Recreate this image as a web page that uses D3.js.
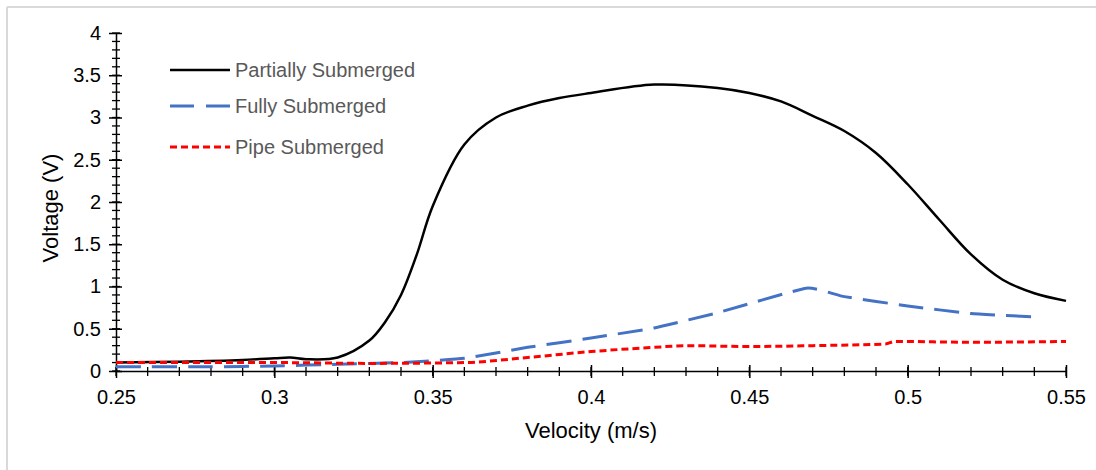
<!DOCTYPE html>
<html>
<head>
<meta charset="utf-8">
<script src="https://cdn.jsdelivr.net/npm/d3@7"></script>
<style>
  html, body { margin: 0; padding: 0; background: #fff; }
  svg { display: block; font-family: Arial, "Liberation Sans", sans-serif; }
</style>
</head>
<body>
<svg id="chart" width="1096" height="470"></svg>
<script>
// Velocity (m/s) vs. output voltage (V) for three submersion conditions
const partialV = [0.25, 0.27, 0.29, 0.30, 0.305, 0.31, 0.32, 0.33, 0.335, 0.34, 0.345, 0.35, 0.36, 0.37, 0.38, 0.39, 0.40, 0.42, 0.44, 0.45, 0.46, 0.47, 0.48, 0.49, 0.50, 0.51, 0.52, 0.53, 0.54, 0.55];
const partialU = [0.10, 0.11, 0.13, 0.15, 0.16, 0.14, 0.16, 0.36, 0.58, 0.90, 1.38, 1.95, 2.68, 3.00, 3.14, 3.23, 3.29, 3.39, 3.35, 3.29, 3.19, 3.02, 2.84, 2.58, 2.21, 1.79, 1.38, 1.08, 0.92, 0.83];

const fullV = [0.25, 0.28, 0.30, 0.32, 0.34, 0.36, 0.38, 0.40, 0.42, 0.44, 0.468, 0.48, 0.50, 0.52, 0.54];
const fullU = [0.05, 0.05, 0.06, 0.08, 0.10, 0.15, 0.28, 0.39, 0.51, 0.69, 0.98, 0.88, 0.77, 0.68, 0.64];

const pipeV = [0.25, 0.30, 0.33, 0.36, 0.38, 0.40, 0.42, 0.43, 0.45, 0.47, 0.493, 0.496, 0.52, 0.55];
const pipeU = [0.10, 0.10, 0.09, 0.10, 0.16, 0.23, 0.28, 0.30, 0.29, 0.30, 0.32, 0.35, 0.34, 0.35];

const seriesNames = ["Partially Submerged", "Fully Submerged", "Pipe Submerged"];
const xTickValues = [0.25, 0.3, 0.35, 0.4, 0.45, 0.5, 0.55];
const yTickValues = [0, 0.5, 1, 1.5, 2, 2.5, 3, 3.5, 4];
const xTitle = "Velocity (m/s)";
const yTitle = "Voltage (V)";

const FONT = "Arial, 'Liberation Sans', sans-serif";
const svg = d3.select("#chart");

// light frame along the top and left edges
svg.append("line").attr("x1", 7).attr("y1", 7).attr("x2", 1096).attr("y2", 7)
  .attr("stroke", "#d9d9d9").attr("stroke-width", 2);
svg.append("line").attr("x1", 7).attr("y1", 7).attr("x2", 7).attr("y2", 470)
  .attr("stroke", "#d9d9d9").attr("stroke-width", 2);

const x = d3.scaleLinear().domain([0.25, 0.55]).range([116, 1066]);
const y = d3.scaleLinear().domain([0, 4]).range([371, 33]);

const zip = (a, b) => a.map((v, i) => [v, b[i]]);
const series = [
  { name: seriesNames[0], data: zip(partialV, partialU), color: "#000000", width: 2.5, dash: null, curve: d3.curveCatmullRom.alpha(0.5) },
  { name: seriesNames[1], data: zip(fullV, fullU), color: "#4472c4", width: 3, dash: "25,11", curve: d3.curveCardinal.tension(0.6) },
  { name: seriesNames[2], data: zip(pipeV, pipeU), color: "#ff0000", width: 3, dash: "7,4", curve: d3.curveMonotoneX }
];

// minor ticks
const xMinor = d3.range(0.25, 0.5501, 0.01);
const yMinor = d3.range(0, 4.001, 0.1);
const axisG = svg.append("g");
axisG.selectAll(".xm").data(xMinor).join("line")
  .attr("x1", d => x(d)).attr("x2", d => x(d))
  .attr("y1", y(0) - 4).attr("y2", y(0) + 5)
  .attr("stroke", "#000").attr("stroke-width", 1.3);
axisG.selectAll(".ym").data(yMinor).join("line")
  .attr("x1", x(0.25) - 4).attr("x2", x(0.25) + 4)
  .attr("y1", d => y(d)).attr("y2", d => y(d))
  .attr("stroke", "#000").attr("stroke-width", 1.3);

// major axes via d3-axis with crossing ticks
const xAxis = d3.axisBottom(x).tickValues(xTickValues).tickSizeInner(7).tickSizeOuter(0).tickPadding(12)
  .tickFormat(d => d3.format("")(+d.toFixed(2)));
const gx = svg.append("g").attr("transform", `translate(0,${y(0)})`).call(xAxis);
gx.select(".domain").attr("stroke", "#000").attr("stroke-width", 1.5);
gx.selectAll(".tick line").attr("y1", -6).attr("stroke-width", 1.5);
gx.selectAll(".tick text").attr("font-size", 20).attr("fill", "#000").attr("font-family", FONT);

const yAxis = d3.axisLeft(y).tickValues(yTickValues).tickSizeInner(7).tickSizeOuter(0).tickPadding(8)
  .tickFormat(d => d3.format("")(d));
const gy = svg.append("g").attr("transform", `translate(${x(0.25)},0)`).call(yAxis);
gy.select(".domain").attr("stroke", "#000").attr("stroke-width", 1.5);
gy.selectAll(".tick line").attr("x1", 6).attr("stroke-width", 1.5);
gy.selectAll(".tick text").attr("font-size", 20).attr("fill", "#000").attr("font-family", FONT);

// series lines
const plot = svg.append("g");
series.forEach(s => {
  const line = d3.line().x(d => x(d[0])).y(d => y(d[1])).curve(s.curve);
  plot.append("path").datum(s.data)
    .attr("d", line)
    .attr("fill", "none")
    .attr("stroke", s.color)
    .attr("stroke-width", s.width)
    .attr("stroke-dasharray", s.dash)
    .attr("stroke-linejoin", "round");
});

// axis titles
svg.append("text").attr("x", 591).attr("y", 438)
  .attr("text-anchor", "middle").attr("font-size", 22).attr("fill", "#000").text(xTitle);
svg.append("text").attr("transform", `translate(58,208) rotate(-90)`)
  .attr("text-anchor", "middle").attr("font-size", 22).attr("fill", "#000").text(yTitle);

// legend
const legendY = [70, 106, 147];
const legend = svg.append("g");
series.forEach((s, i) => {
  legend.append("line")
    .attr("x1", 170).attr("x2", 230).attr("y1", legendY[i]).attr("y2", legendY[i])
    .attr("stroke", s.color).attr("stroke-width", s.width)
    .attr("stroke-dasharray", i === 1 ? "24,12" : s.dash);
  legend.append("text").attr("x", 235).attr("y", legendY[i] + 7)
    .attr("font-size", 20).attr("fill", "#595959").text(s.name);
});
</script>
</body>
</html>
